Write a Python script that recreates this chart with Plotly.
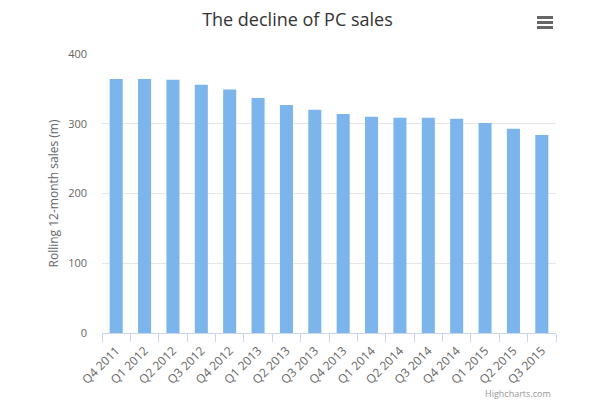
import plotly.graph_objects as go

# rolling 12-month PC sales, in millions
quarters = ['Q4 2011', 'Q1 2012', 'Q2 2012', 'Q3 2012', 'Q4 2012', 'Q1 2013',
            'Q2 2013', 'Q3 2013', 'Q4 2013', 'Q1 2014', 'Q2 2014', 'Q3 2014',
            'Q4 2014', 'Q1 2015', 'Q2 2015', 'Q3 2015']
sales = [364, 364, 363, 356, 349, 337, 327, 320, 314, 310, 308.5, 308.5,
         307, 301, 293, 284]
y_ticks = [0, 100, 200, 300, 400]

FONT = 'Open Sans, DejaVu Sans, sans-serif'
L, R, T, B = 102, 33, 54, 68
PW, PH = 589 - L - R, 401 - T - B


def px(x):
    return (x - L) / PW


def py(y):
    return (401 - B - y) / PH


fig = go.Figure(
    data=go.Bar(
        x=quarters,
        y=sales,
        marker=dict(color='#7cb5ec', line=dict(width=0)),
        hoverinfo='x+y',
    )
)

fig.update_layout(
    width=589,
    height=401,
    paper_bgcolor='white',
    plot_bgcolor='white',
    margin=dict(l=L, r=R, t=T, b=B),
    bargap=0.54,
    showlegend=False,
    font=dict(family=FONT, color='#666666', size=11),
    title=dict(
        text='The decline of PC sales',
        x=0.505, xref='container', xanchor='center',
        y=0.95, yref='container', yanchor='middle',
        font=dict(size=18, color='#333333', family=FONT),
    ),
    xaxis=dict(
        type='category',
        showgrid=False,
        showline=True,
        linecolor='#ccd6eb',
        linewidth=1,
        ticks='outside',
        tickcolor='#ccd6eb',
        ticklen=8,
        tickson='boundaries',
        tickangle=-45,
        ticklabelstandoff=5,
        tickfont=dict(size=12, color='#666666'),
    ),
    yaxis=dict(
        range=[0, 400],
        tickvals=y_ticks,
        showgrid=True,
        gridcolor='#e6e6e6',
        zeroline=False,
        showline=False,
        ticks='',
        tickfont=dict(size=11, color='#666666'),
        ticklabelstandoff=14,
        title=dict(text='Rolling 12-month sales (m)',
                   font=dict(size=12, color='#666666'), standoff=6),
    ),
)

# hamburger menu icon
for yy in [17.5, 22.5, 27.5]:
    fig.add_shape(type='rect', xref='paper', yref='paper',
                  x0=px(537), x1=px(553),
                  y0=py(yy + 1.5), y1=py(yy - 1.5),
                  fillcolor='#666666', line=dict(width=0))

# credits
fig.add_annotation(
    text='Highcharts.com', xref='paper', yref='paper',
    x=px(553), y=py(393),
    xanchor='right', yanchor='middle', showarrow=False,
    font=dict(size=9, color='#999999', family=FONT),
)

fig.write_html("out.html", config={'displayModeBar': False},
               post_script="document.body.style.margin='0';")
